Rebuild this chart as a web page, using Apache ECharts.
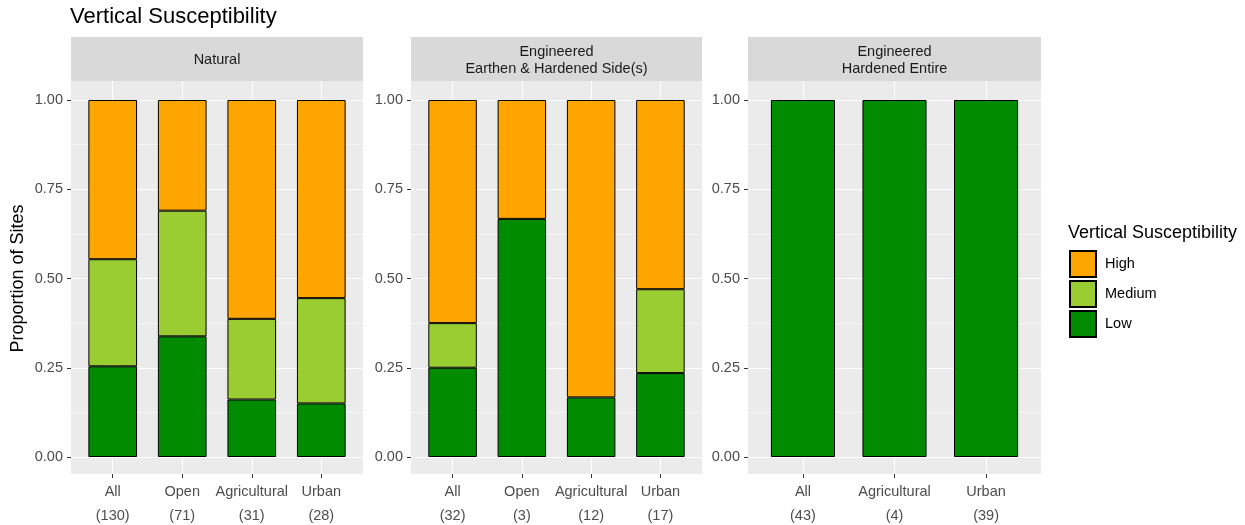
<!DOCTYPE html>
<html>
<head>
<meta charset="utf-8">
<script src="https://cdn.jsdelivr.net/npm/echarts@6/dist/echarts.min.js"></script>
<style>
  html, body { margin: 0; padding: 0; background: #fff; }
  #chart { width: 1245px; height: 525px; }
</style>
</head>
<body>
<div id="chart"></div>
<script>
// ---- data ----
const chartTitle = 'Vertical Susceptibility';
const legendTitle = 'Vertical Susceptibility';
const yAxisTitle = 'Proportion of Sites';
const levelNames = ['Low', 'Medium', 'High'];
const levelColors = ['#008B00', '#9ACD32', '#FFA500'];

const naturalTitle = 'Natural';
const naturalCategories = ['All', 'Open', 'Agricultural', 'Urban'];
const naturalCounts = [130, 71, 31, 28];
const naturalLow = [0.254, 0.338, 0.161, 0.150];
const naturalMedium = [0.300, 0.352, 0.226, 0.295];
const naturalHigh = [0.446, 0.310, 0.613, 0.555];

const earthenTitle = 'Engineered\nEarthen & Hardened Side(s)';
const earthenCategories = ['All', 'Open', 'Agricultural', 'Urban'];
const earthenCounts = [32, 3, 12, 17];
const earthenLow = [0.250, 0.667, 0.167, 0.235];
const earthenMedium = [0.125, 0, 0, 0.235];
const earthenHigh = [0.625, 0.333, 0.833, 0.530];

const hardenedTitle = 'Engineered\nHardened Entire';
const hardenedCategories = ['All', 'Agricultural', 'Urban'];
const hardenedCounts = [43, 4, 39];
const hardenedLow = [1, 1, 1];
const hardenedMedium = [0, 0, 0];
const hardenedHigh = [0, 0, 0];

// ---- layout ----
const FONT = '"Liberation Sans", Arial, Helvetica, sans-serif';
const panelBoxes = [
  { left: 71, width: 292 },
  { left: 411, width: 291 },
  { left: 748, width: 293 }
];
const STRIP_TOP = 37, STRIP_H = 44;
const BG_TOP = 81, BG_H = 393;
const DATA_TOP = 100, DATA_H = 357;

const panels = [
  { title: naturalTitle, cats: naturalCategories, counts: naturalCounts,
    values: [naturalLow, naturalMedium, naturalHigh] },
  { title: earthenTitle, cats: earthenCategories, counts: earthenCounts,
    values: [earthenLow, earthenMedium, earthenHigh] },
  { title: hardenedTitle, cats: hardenedCategories, counts: hardenedCounts,
    values: [hardenedLow, hardenedMedium, hardenedHigh] }
];

const grids = [], xAxes = [], yAxes = [], series = [], graphics = [];

panels.forEach((p, i) => {
  const box = panelBoxes[i];
  const n = p.cats.length;
  const xMin = 0.4, xMax = n + 0.6;
  const idxs = p.cats.map((_, k) => k + 1);
  const unit = box.width / (xMax - xMin);
  const g0 = grids.length;

  // grid A: grey panel, vertical grid lines, category labels
  grids.push({ left: box.left, top: BG_TOP, width: box.width, height: BG_H,
    show: true, backgroundColor: '#EBEBEB', borderWidth: 0, outerBoundsMode: 'none' });
  // grid B: proportion scale, horizontal grid lines
  grids.push({ left: box.left, top: DATA_TOP, width: box.width, height: DATA_H,
    show: false, outerBoundsMode: 'none' });
  // grid C: one band per category for the stacked bars
  grids.push({ left: box.left + (1 - xMin - 0.5) * unit, top: DATA_TOP, width: n * unit, height: DATA_H,
    show: false, outerBoundsMode: 'none' });

  xAxes.push({
    gridIndex: g0, type: 'value', min: xMin, max: xMax, splitNumber: n,
    axisLine: { show: false },
    axisTick: { show: true, length: 4, lineStyle: { color: '#333333', width: 1 }, customValues: idxs },
    axisLabel: {
      show: true, customValues: idxs, margin: 6,
      color: '#4D4D4D', fontFamily: FONT, fontSize: 14.5, lineHeight: 24, align: 'center',
      formatter: v => {
        const k = Math.round(v);
        if (Math.abs(v - k) > 1e-6 || k < 1 || k > n) return '';
        return p.cats[k - 1] + '\n(' + p.counts[k - 1] + ')';
      }
    },
    splitLine: { show: true, lineStyle: { color: '#FFFFFF', width: 1.1 } }
  });
  yAxes.push({ gridIndex: g0, type: 'value', min: 0, max: 1, show: false });

  xAxes.push({ gridIndex: g0 + 1, type: 'value', min: xMin, max: xMax, show: false,
    splitLine: { show: false } });
  yAxes.push({
    gridIndex: g0 + 1, type: 'value', min: 0, max: 1, interval: 0.25,
    axisLine: { show: false },
    axisTick: { show: true, length: 4, lineStyle: { color: '#333333', width: 1 } },
    axisLabel: { color: '#4D4D4D', fontFamily: FONT, fontSize: 14.5, margin: 8,
      formatter: v => v.toFixed(2) },
    splitLine: { show: true, lineStyle: { color: '#FFFFFF', width: 1.1 } },
    minorTick: { show: false, splitNumber: 2 },
    minorSplitLine: { show: true, lineStyle: { color: '#FFFFFF', width: 0.55 } },
    name: i === 0 ? yAxisTitle : '',
    nameLocation: 'middle', nameGap: 44, nameRotate: 90,
    nameTextStyle: { color: '#000000', fontFamily: FONT, fontSize: 18 }
  });

  xAxes.push({ gridIndex: g0 + 2, type: 'category', data: p.cats, boundaryGap: true, show: false });
  yAxes.push({ gridIndex: g0 + 2, type: 'value', min: 0, max: 1, show: false, splitLine: { show: false } });

  levelNames.forEach((lvl, j) => {
    series.push({
      name: lvl, type: 'bar', stack: 'panel' + i,
      xAxisIndex: g0 + 2, yAxisIndex: g0 + 2,
      barWidth: '70%',
      data: p.values[j].map(v => (v > 0 ? v : '-')),
      itemStyle: { color: levelColors[j], borderColor: '#000000', borderWidth: 1 },
      emphasis: { disabled: true }
    });
  });

  // facet strip
  graphics.push({ type: 'rect', shape: { x: box.left, y: STRIP_TOP, width: box.width, height: STRIP_H },
    style: { fill: '#D9D9D9' }, silent: true });
  graphics.push({ type: 'text', x: box.left + box.width / 2, y: STRIP_TOP + STRIP_H / 2 + 1,
    style: { text: p.title, fill: '#1A1A1A', font: '14.5px ' + FONT, align: 'center',
      verticalAlign: 'middle', lineHeight: 17 }, silent: true });
});

graphics.push({ type: 'text', x: 70, y: 17,
  style: { text: chartTitle, fill: '#000000', font: '22px ' + FONT, verticalAlign: 'middle' }, silent: true });
graphics.push({ type: 'text', x: 1068, y: 233,
  style: { text: legendTitle, fill: '#000000', font: '18px ' + FONT, verticalAlign: 'middle' }, silent: true });

const chart = echarts.init(document.getElementById('chart'), null, { renderer: 'canvas' });
chart.setOption({
  animation: false,
  backgroundColor: '#FFFFFF',
  grid: grids,
  xAxis: xAxes,
  yAxis: yAxes,
  legend: {
    orient: 'vertical', left: 1069, top: 250, padding: 0,
    data: ['High', 'Medium', 'Low'],
    icon: 'rect', itemWidth: 26, itemHeight: 26, itemGap: 2,
    textStyle: { color: '#000000', fontFamily: FONT, fontSize: 14.5, padding: [0, 0, 0, 4] },
    selectedMode: false
  },
  series: series,
  graphic: graphics
});
</script>
</body>
</html>
